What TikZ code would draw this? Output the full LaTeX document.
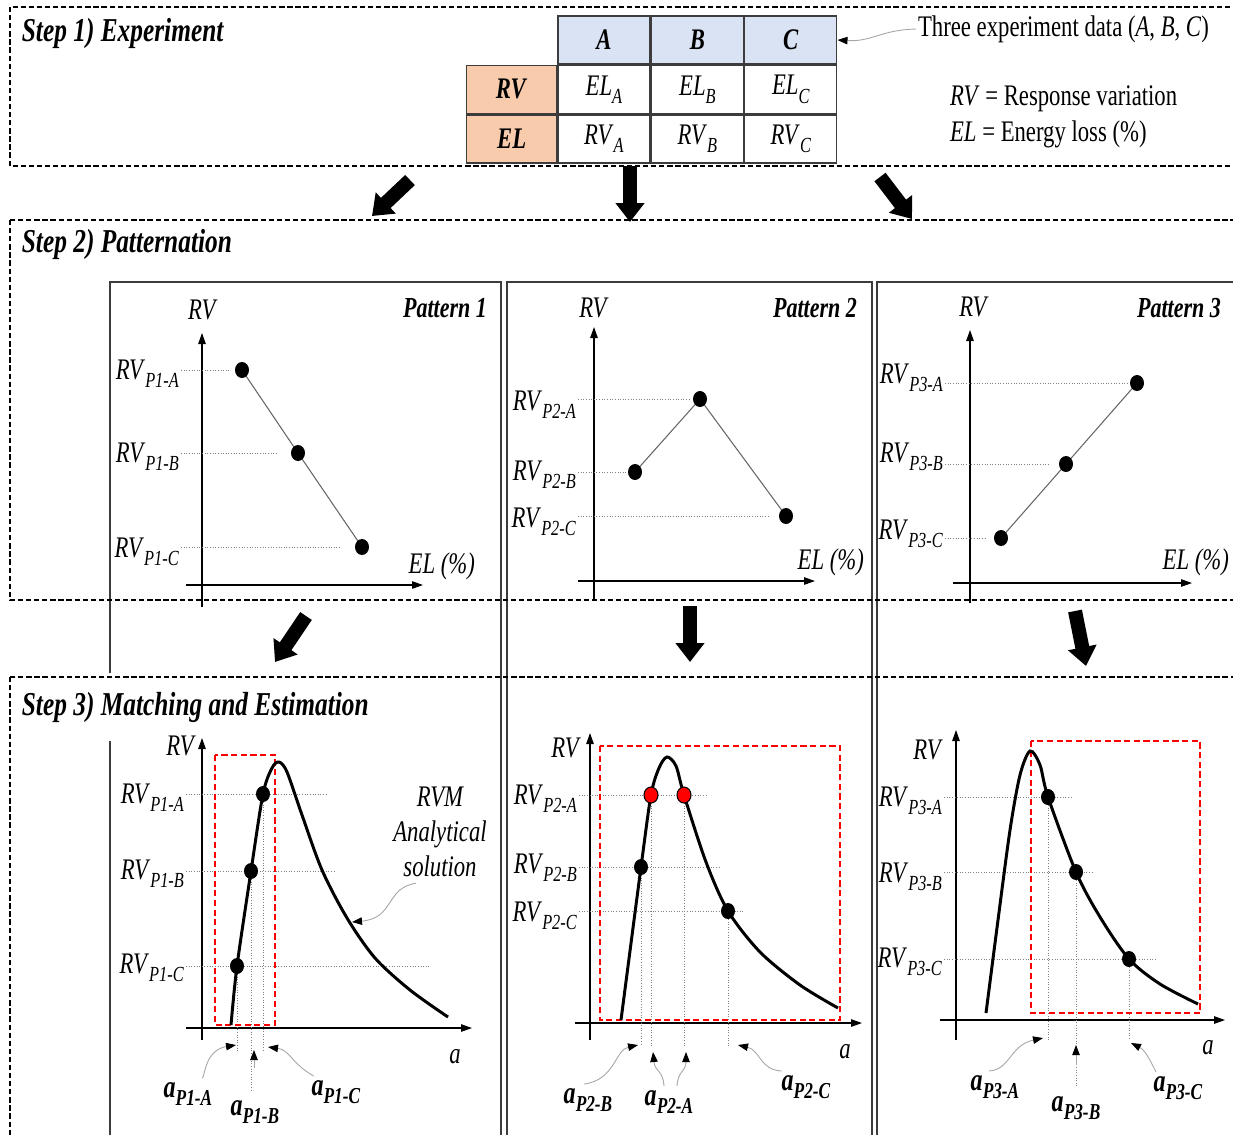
\documentclass[tikz,border=0pt]{standalone}
\usepackage{fontspec}
\setmainfont{Liberation Serif}[FakeStretch=0.76]
\usetikzlibrary{arrows.meta, positioning, shapes.geometric, calc}

\definecolor{hdrblue}{RGB}{218,227,243}
\definecolor{rowpeach}{RGB}{248,203,173}
\definecolor{panelgray}{RGB}{60,60,60}

\newcommand{\lsub}[1]{\raisebox{-0.6ex}{\scalebox{0.72}{#1}}}
\newcommand{\rvlab}[1]{\textit{RV}\lsub{\textit{#1}}}
\newcommand{\alab}[1]{\textbf{\textit{a}}\lsub{\textbf{\textit{#1}}}}

\tikzset{
	stepbox/.style={line width=1.1pt, dash pattern=on 3pt off 1.6pt},
	panelbox/.style={draw=panelgray, line width=0.9pt},
	steptitle/.style={font=\fontsize{19}{21}\selectfont\bfseries\itshape, anchor=west, fill=white, inner sep=2pt},
	pattitle/.style={font=\fontsize{16.5}{18}\selectfont\bfseries\itshape, anchor=east, inner sep=1pt},
	txt/.style={font=\fontsize{17}{19}\selectfont, inner sep=1pt},
	rvtxt/.style={txt, anchor=east},
	atxt/.style={font=\fontsize{18}{20}\selectfont, inner sep=1pt},
	cell/.style={draw=panelgray, line width=0.8pt, minimum width=1.84cm, minimum height=0.96cm, inner sep=0pt, font=\fontsize{17}{19}\selectfont},
	dot/.style={ellipse, fill=black, minimum width=0.28cm, minimum height=0.32cm, inner sep=0pt},
	reddot/.style={dot, fill=red, draw=black, line width=0.6pt},
	leader/.style={gray, densely dotted, line width=0.5pt},
	patline/.style={black!60, line width=0.6pt},
	axis/.style={line width=0.6pt, -{Triangle[length=0.22cm,width=0.15cm]}},
	curve/.style={line width=1.7pt},
	redbox/.style={draw=red, line width=1.2pt, dash pattern=on 3.5pt off 2pt},
	note/.style={gray!70, line width=0.5pt, -{Triangle[length=0.2cm,width=0.15cm,color=black]}},
	fatarrow/.style={line width=0.28cm, -{Triangle[length=0.38cm,width=0.56cm]}}
}

\begin{document}
\begin{tikzpicture}[x=0.02cm, y=-0.02cm]
	\useasboundingbox (0,0) rectangle (1233,1134);
	\fill[white] (0,0) rectangle (1233,1134);
	\clip (0,0) rectangle (1233,1134);

	% panels behind the step frames
	\draw[panelbox] (110,282) rectangle (501,1145);
	\draw[panelbox] (507,282) rectangle (872,1145);
	\draw[panelbox] (877,282) rectangle (1245,1145);

	\node[steptitle] (t1) at (18,33) {Step 1) Experiment};
	\node[steptitle] (t2) at (18,244) {Step 2) Patternation};
	\node[steptitle, inner ysep=11pt] (t3) at (18,707) {Step 3) Matching and Estimation};

	\draw[stepbox] (10,7) rectangle (1245,166);
	\draw[stepbox] (10,220) rectangle (1245,600);
	\draw[stepbox] (10,677) rectangle (1245,1150);

	%% Step 1: table
	\node[cell, fill=hdrblue] (hA) at (604,40) {\textbf{\textit{A}}};
	\node[cell, fill=hdrblue, right=0pt of hA] (hB) {\textbf{\textit{B}}};
	\node[cell, fill=hdrblue, right=0pt of hB] (hC) {\textbf{\textit{C}}};
	\node[cell, below=0pt of hA] (eA) {\textit{EL}\lsub{\textit{A}}};
	\node[cell, below=0pt of hB] (eB) {\textit{EL}\lsub{\textit{B}}};
	\node[cell, below=0pt of hC] (eC) {\textit{EL}\lsub{\textit{C}}};
	\node[cell, below=0pt of eA] (rA) {\textit{RV}\lsub{\textit{A}}};
	\node[cell, below=0pt of eB] (rB) {\textit{RV}\lsub{\textit{B}}};
	\node[cell, below=0pt of eC] (rC) {\textit{RV}\lsub{\textit{C}}};
	\node[cell, fill=rowpeach, minimum width=1.8cm, left=0pt of eA] (rowRV) {\textbf{\textit{RV}}};
	\node[cell, fill=rowpeach, minimum width=1.8cm, left=0pt of rA] (rowEL) {\textbf{\textit{EL}}};

	\node[txt, anchor=west] (three) at (916,29) {Three experiment data (\textit{A}, \textit{B}, \textit{C})};
	\draw[note] (three.west) .. controls (880,30) and (872,42) .. (hC.east);
	\node[txt, anchor=west] (defRV) at (948,99) {\textit{RV} = Response variation};
	\node[txt, anchor=west] (defEL) at (948,134) {\textit{EL} = Energy loss (\%)};

	% big arrows step 1 -> step 2
	\coordinate (s1a) at (410,180); \coordinate (s1b) at (372,216);
	\coordinate (s2a) at (630,166); \coordinate (s2b) at (630,222);
	\coordinate (s3a) at (880,177); \coordinate (s3b) at (912,219);
	\draw[fatarrow] (s1a) -- (s1b);
	\draw[fatarrow] (s2a) -- (s2b);
	\draw[fatarrow] (s3a) -- (s3b);

	%% Step 2: patterns
	% pattern 1
	\draw[axis] (202,607) -- (202,333);
	\draw[axis] (186,585) -- (423,585);
	\node[txt] (ax1) at (203,310) {\textit{RV}};
	\node[pattitle] (pt1) at (489,308) {Pattern 1};
	\node[txt, anchor=east] (el1) at (477,566) {\textit{EL (\%)}};
	\coordinate (p1A) at (242,370);
	\coordinate (p1B) at (298,453);
	\coordinate (p1C) at (362,547);
	\node[rvtxt] (l1A) at (181,374) {\rvlab{P1-A}};
	\node[rvtxt] (l1B) at (181,457) {\rvlab{P1-B}};
	\node[rvtxt] (l1C) at (181,552) {\rvlab{P1-C}};
	\draw[leader] (l1A.east |- p1A) -- ($(p1A)+(-12,0)$);
	\draw[leader] (l1B.east |- p1B) -- ($(p1B)+(-22,0)$);
	\draw[leader] (l1C.east |- p1C) -- ($(p1C)+(-22,0)$);
	\draw[patline] (p1A) -- (p1B) -- (p1C);
	\node[dot] (d1A) at (p1A) {};
	\node[dot] (d1B) at (p1B) {};
	\node[dot] (d1C) at (p1C) {};

	% pattern 2
	\draw[axis] (594,600) -- (594,327);
	\draw[axis] (578,581) -- (815,581);
	\node[txt] (ax2) at (594,308) {\textit{RV}};
	\node[pattitle] (pt2) at (859,308) {Pattern 2};
	\node[txt, anchor=east] (el2) at (866,562) {\textit{EL (\%)}};
	\coordinate (p2A) at (700,399);
	\coordinate (p2B) at (635,472);
	\coordinate (p2C) at (786,516);
	\node[rvtxt] (l2A) at (578,405) {\rvlab{P2-A}};
	\node[rvtxt] (l2B) at (578,475) {\rvlab{P2-B}};
	\node[rvtxt] (l2C) at (578,522) {\rvlab{P2-C}};
	\draw[leader] (l2A.east |- p2A) -- ($(p2A)+(-10,0)$);
	\draw[leader] (l2B.east |- p2B) -- ($(p2B)+(-7,0)$);
	\draw[leader] (l2C.east |- p2C) -- ($(p2C)+(-16,0)$);
	\draw[patline] (p2B) -- (p2A) -- (p2C);
	\node[dot] (d2A) at (p2A) {};
	\node[dot] (d2B) at (p2B) {};
	\node[dot] (d2C) at (p2C) {};

	% pattern 3
	\draw[axis] (970,603) -- (970,330);
	\draw[axis] (953,583) -- (1192,583);
	\node[txt] (ax3) at (974,307) {\textit{RV}};
	\node[pattitle] (pt3) at (1223,308) {Pattern 3};
	\node[txt, anchor=east] (el3) at (1231,562) {\textit{EL (\%)}};
	\coordinate (p3A) at (1137,383);
	\coordinate (p3B) at (1066,464);
	\coordinate (p3C) at (1001,538);
	\node[rvtxt] (l3A) at (945,378) {\rvlab{P3-A}};
	\node[rvtxt] (l3B) at (945,457) {\rvlab{P3-B}};
	\node[rvtxt] (l3C) at (945,534) {\rvlab{P3-C}};
	\draw[leader] (l3A.east |- p3A) -- ($(p3A)+(-8,0)$);
	\draw[leader] (l3B.east |- p3B) -- ($(p3B)+(-16,0)$);
	\draw[leader] (l3C.east |- p3C) -- ($(p3C)+(-16,0)$);
	\draw[patline] (p3C) -- (p3B) -- (p3A);
	\node[dot] (d3A) at (p3A) {};
	\node[dot] (d3B) at (p3B) {};
	\node[dot] (d3C) at (p3C) {};

	% big arrows step 2 -> step 3
	\coordinate (u1a) at (306,616); \coordinate (u1b) at (275,662);
	\coordinate (u2a) at (690,606); \coordinate (u2b) at (690,662);
	\coordinate (u3a) at (1075,611); \coordinate (u3b) at (1086,666);
	\draw[fatarrow] (u1a) -- (u1b);
	\draw[fatarrow] (u2a) -- (u2b);
	\draw[fatarrow] (u3a) -- (u3b);

	%% Step 3: matching
	% panel 1
	\coordinate (q1A) at (263,794);
	\coordinate (q1B) at (251,871);
	\coordinate (q1C) at (237,966);
	\coordinate (cut1) at (0,1052);
	\draw[axis] (202,1040) -- (202,738);
	\draw[axis] (186,1028) -- (472,1028);
	\node[txt, anchor=east] (ay1) at (198,746) {\textit{RV}};
	\node[txt] (aa1) at (455,1057) {\textit{a}};
	\node[rvtxt] (m1A) at (186,798) {\rvlab{P1-A}};
	\node[rvtxt] (m1B) at (186,874) {\rvlab{P1-B}};
	\node[rvtxt] (m1C) at (186,968) {\rvlab{P1-C}};
	\draw[leader] (m1A.east |- q1A) -- ($(q1A)+(65,0)$);
	\draw[leader] (m1B.east |- q1B) -- ($(q1B)+(85,0)$);
	\draw[leader] (m1C.east |- q1C) -- ($(q1C)+(193,0)$);
	\draw[leader] (q1A) -- (q1A |- cut1);
	\draw[leader] (q1B) -- ($(q1B |- cut1)+(0,40)$);
	\draw[leader] (q1C) -- (q1C |- cut1);
	\draw[redbox] (215,755) rectangle (275,1025);
	\draw[curve] plot[smooth, tension=0.5] coordinates {(231,1025) (q1C) (q1B) (q1A) (272,768) (279,762) (287,772) (302,815) (322,870) (347,918) (375,958) (410,990) (448,1017)};
	\node[dot] (e1A) at (q1A) {};
	\node[dot] (e1B) at (q1B) {};
	\node[dot] (e1C) at (q1C) {};
	\node[txt, align=center, font=\fontsize{17}{20}\selectfont\itshape] (rvm) at (440,832) {RVM\\Analytical\\solution};
	\coordinate (rvmtip) at (352,922);
	\draw[note] (rvm.south) ++(-24,4) .. controls (385,888) and (395,918) .. (rvmtip);
	\node[atxt] (a1A) at (188,1094) {\alab{P1-A}};
	\node[atxt] (a1B) at (255,1112) {\alab{P1-B}};
	\node[atxt] (a1C) at (336,1092) {\alab{P1-C}};
	\coordinate (k1A) at (236,1045);
	\coordinate (k1B) at (254,1050);
	\coordinate (k1C) at (268,1047);
	\draw[note] (a1A.north east) ++(-12,-2) .. controls (205,1076) and (205,1050) .. (k1A);
	\draw[note] (254,1068) -- (k1B);
	\draw[note] (a1C.north west) ++(4,-2) .. controls (290,1062) and (290,1050) .. (k1C);

	% panel 2
	\coordinate (q2A1) at (651,795);
	\coordinate (q2A2) at (684,795);
	\coordinate (q2B) at (641,867);
	\coordinate (q2C) at (728,911);
	\coordinate (cut2) at (0,1046);
	\draw[axis] (590,1040) -- (590,733);
	\draw[axis] (575,1023) -- (862,1023);
	\node[txt, anchor=east] (ay2) at (583,748) {\textit{RV}};
	\node[txt] (aa2) at (845,1052) {\textit{a}};
	\node[rvtxt] (m2A) at (579,799) {\rvlab{P2-A}};
	\node[rvtxt] (m2B) at (579,868) {\rvlab{P2-B}};
	\node[rvtxt] (m2C) at (579,916) {\rvlab{P2-C}};
	\draw[leader] (m2A.east |- q2A2) -- ($(q2A2)+(24,0)$);
	\draw[leader] (m2B.east |- q2B) -- ($(q2B)+(79,0)$);
	\draw[leader] (m2C.east |- q2C) -- ($(q2C)+(17,0)$);
	\draw[leader] (q2A1) -- (q2A1 |- cut2);
	\draw[leader] (q2A2) -- (q2A2 |- cut2);
	\draw[leader] (q2B) -- (q2B |- cut2);
	\draw[leader] (q2C) -- (q2C |- cut2);
	\draw[redbox] (600,746) rectangle (840,1020);
	\draw[curve] plot[smooth, tension=0.5] coordinates {(621,1020) (q2B) (q2A1) (659,768) (667,757) (676,766) (q2A2) (706,862) (q2C) (760,952) (800,985) (838,1008)};
	\node[reddot] (e2A1) at (q2A1) {};
	\node[reddot] (e2A2) at (q2A2) {};
	\node[dot] (e2B) at (q2B) {};
	\node[dot] (e2C) at (q2C) {};
	\node[atxt] (a2B) at (588,1100) {\alab{P2-B}};
	\node[atxt] (a2A) at (669,1102) {\alab{P2-A}};
	\node[atxt] (a2C) at (806,1087) {\alab{P2-C}};
	\coordinate (k2B) at (638,1045);
	\coordinate (k2A1) at (653,1052);
	\coordinate (k2A2) at (686,1052);
	\coordinate (k2C) at (738,1045);
	\draw[note] (a2B.north) ++(-4,-2) .. controls (615,1080) and (615,1050) .. (k2B);
	\draw[note] (a2A.north) ++(-5,-2) .. controls (663,1070) and (655,1072) .. (k2A1);
	\draw[note] (a2A.north) ++(8,-2) .. controls (678,1070) and (686,1072) .. (k2A2);
	\draw[note] (a2C.north west) ++(2,-2) .. controls (760,1070) and (760,1050) .. (k2C);

	% panel 3
	\coordinate (q3A) at (1048,797);
	\coordinate (q3B) at (1076,872);
	\coordinate (q3C) at (1129,959);
	\coordinate (cut3) at (0,1040);
	\draw[axis] (956,1040) -- (956,730);
	\draw[axis] (940,1020) -- (1225,1020);
	\node[txt, anchor=east] (ay3) at (945,750) {\textit{RV}};
	\node[txt] (aa3) at (1208,1048) {\textit{a}};
	\node[rvtxt] (m3A) at (944,801) {\rvlab{P3-A}};
	\node[rvtxt] (m3B) at (944,877) {\rvlab{P3-B}};
	\node[rvtxt] (m3C) at (944,962) {\rvlab{P3-C}};
	\draw[leader] (m3A.east |- q3A) -- ($(q3A)+(25,0)$);
	\draw[leader] (m3B.east |- q3B) -- ($(q3B)+(17,0)$);
	\draw[leader] (m3C.east |- q3C) -- ($(q3C)+(26,0)$);
	\draw[leader] (q3A) -- (q3A |- cut3);
	\draw[leader] (q3B) -- ($(q3B |- cut3)+(0,46)$);
	\draw[leader] (q3C) -- (q3C |- cut3);
	\draw[redbox] (1031,741) rectangle (1200,1013);
	\draw[curve] plot[smooth, tension=0.5] coordinates {(986,1013) (998,920) (1010,830) (1020,775) (1030,751) (1040,765) (q3A) (q3B) (1100,917) (q3C) (1160,984) (1198,1004)};
	\node[dot] (e3A) at (q3A) {};
	\node[dot] (e3B) at (q3B) {};
	\node[dot] (e3C) at (q3C) {};
	\node[atxt] (a3A) at (995,1087) {\alab{P3-A}};
	\node[atxt] (a3B) at (1076,1108) {\alab{P3-B}};
	\node[atxt] (a3C) at (1178,1088) {\alab{P3-C}};
	\coordinate (k3A) at (1043,1038);
	\coordinate (k3B) at (1076,1045);
	\coordinate (k3C) at (1131,1043);
	\draw[note] (a3A.north) ++(-6,-2) .. controls (1010,1070) and (1010,1045) .. (k3A);
	\draw[note] (1076,1065) -- (k3B);
	\draw[note] (a3C.north) ++(-22,-2) .. controls (1150,1060) and (1145,1050) .. (k3C);
\end{tikzpicture}
\end{document}
